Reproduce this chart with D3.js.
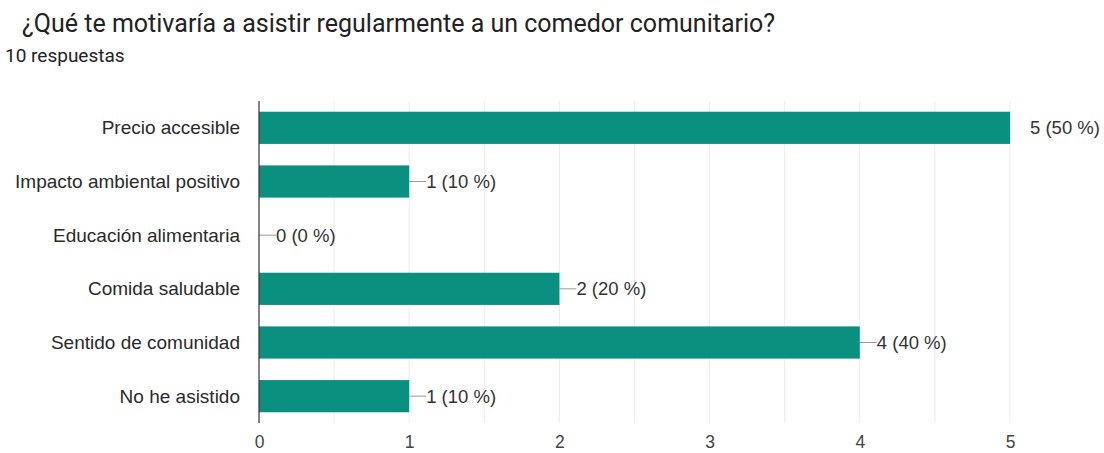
<!DOCTYPE html>
<html>
<head>
<meta charset="utf-8">
<script src="https://cdn.jsdelivr.net/npm/d3@7"></script>
<style>
  body { margin: 0; background: #fff; }
  text { font-family: "Liberation Sans", Arial, sans-serif; }
</style>
</head>
<body>
<div id="chart-area"></div>
<script>
var categories = ["Precio accesible", "Impacto ambiental positivo", "Educación alimentaria",
    "Comida saludable", "Sentido de comunidad", "No he asistido"];
var counts = [5, 1, 0, 2, 4, 1];
var total = 10;
var xTicks = [0, 1, 2, 3, 4, 5];
var gridTicks = [0.5, 1, 1.5, 2, 2.5, 3, 3.5, 4, 4.5, 5];

var data = categories.map((c, i) => ({ name: c, value: counts[i] }));

var svg = d3.select("#chart-area")
    .append("svg")
    .attr("width", 1104)
    .attr("height", 453);

svg.append("text")
    .attr("x", 22)
    .attr("y", 32)
    .attr("font-size", "25px")
    .attr("fill", "#222")
    .style("font-family", "Roboto, sans-serif")
    .text("¿Qué te motivaría a asistir regularmente a un comedor comunitario?");

svg.append("text")
    .attr("x", 5)
    .attr("y", 62)
    .attr("font-size", "19px")
    .attr("fill", "#222")
    .style("font-family", "Roboto, sans-serif")
    .text(total + " respuestas");

var margin = { top: 101, left: 259 };
var width = 1010 - 259;
var height = 423 - 101;

var g = svg.append("g")
    .attr("transform", `translate(${margin.left}, ${margin.top})`);

var x = d3.scaleLinear()
    .domain([0, 5])
    .range([0, width]);

var y = d3.scaleBand()
    .domain(categories)
    .range([0, height])
    .paddingInner(0.4)
    .paddingOuter(0.2);

// faint grid
g.selectAll(".grid")
    .data(gridTicks)
    .enter()
    .append("line")
    .attr("class", "grid")
    .attr("x1", d => x(d))
    .attr("x2", d => x(d))
    .attr("y1", 0)
    .attr("y2", height)
    .attr("stroke", "#ececec")
    .attr("stroke-width", 1);

g.selectAll(".bar")
    .data(data)
    .enter()
    .append("rect")
    .attr("class", "bar")
    .attr("x", 0)
    .attr("y", d => y(d.name))
    .attr("width", d => x(d.value))
    .attr("height", y.bandwidth())
    .attr("fill", "#0b9080");

// connector lines + value labels
g.selectAll(".conn")
    .data(data.filter(d => d.value < 5))
    .enter()
    .append("line")
    .attr("class", "conn")
    .attr("x1", d => x(d.value))
    .attr("x2", d => x(d.value) + 17)
    .attr("y1", d => y(d.name) + y.bandwidth() / 2)
    .attr("y2", d => y(d.name) + y.bandwidth() / 2)
    .attr("stroke", "#999")
    .attr("stroke-width", 1);

g.selectAll(".val")
    .data(data)
    .enter()
    .append("text")
    .attr("class", "val")
    .attr("x", d => x(d.value) + (d.value < 5 ? 17 : 20))
    .attr("y", d => y(d.name) + y.bandwidth() / 2)
    .attr("dy", "0.35em")
    .attr("font-size", "18.5px")
    .attr("fill", "#333")
    .text(d => `${d.value} (${Math.round(d.value / total * 100)} %)`);

// y axis line
g.append("line")
    .attr("x1", 0)
    .attr("x2", 0)
    .attr("y1", 0)
    .attr("y2", height)
    .attr("stroke", "#333")
    .attr("stroke-width", 1.2);

// category labels
g.selectAll(".cat")
    .data(categories)
    .enter()
    .append("text")
    .attr("class", "cat")
    .attr("x", -19)
    .attr("y", d => y(d) + y.bandwidth() / 2)
    .attr("dy", "0.35em")
    .attr("text-anchor", "end")
    .attr("font-size", "19px")
    .attr("fill", "#2a2a2a")
    .text(d => d);

// x axis labels
var xAxis = d3.axisBottom(x)
    .tickValues(xTicks)
    .tickSize(0)
    .tickPadding(13)
    .tickFormat(d3.format("d"));

var xa = g.append("g")
    .attr("transform", `translate(0, ${height})`)
    .call(xAxis);
xa.select(".domain").remove();
xa.selectAll("text")
    .attr("font-size", "17.5px")
    .attr("fill", "#444")
    .style("font-family", "'Liberation Sans', Arial, sans-serif");
</script>
</body>
</html>
